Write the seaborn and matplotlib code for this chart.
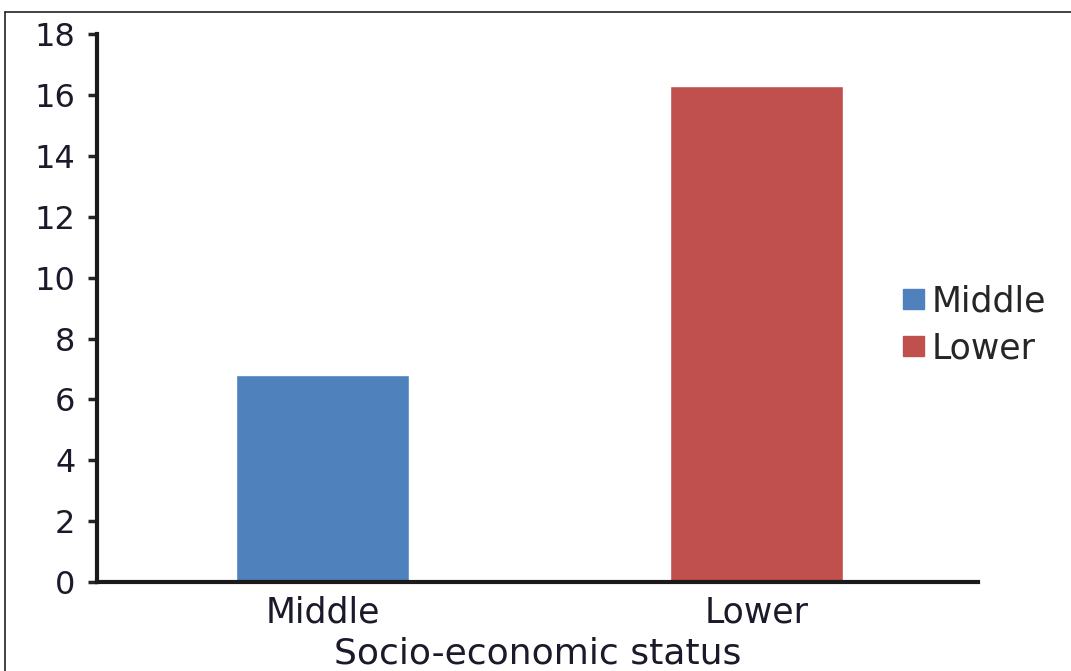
import matplotlib
matplotlib.use("Agg")
import matplotlib.pyplot as plt
import seaborn as sns
import pandas as pd
from matplotlib.lines import Line2D

categories = ["Middle", "Lower"]
values = [6.8, 16.3]
colors = ["#4F81BD", "#C0504D"]
yticks = [0, 2, 4, 6, 8, 10, 12, 14, 16, 18]

sns.set_theme(style="white")
plt.rcParams['font.family'] = ['DejaVu Sans']

df = pd.DataFrame({"status": categories, "value": values})

fig = plt.figure(figsize=(10.71, 6.71), dpi=100)
ax = fig.add_axes([0.0906, 0.1326, 0.8224, 0.8164])

sns.barplot(data=df, x="status", y="value", hue="status", palette=colors,
            width=0.4, ax=ax, legend=False, saturation=1)

txt = "#1a1a2a"
ax.set_ylim(0, 18)
ax.set_xlim(-0.52, 1.51)
ax.set_yticks(yticks)
ax.set_yticklabels([str(t) for t in yticks], fontsize=23, color=txt)
ax.tick_params(axis="x", labelsize=25, length=0, pad=10, colors=txt)
ax.tick_params(axis="y", length=6.5, width=2.5, pad=9, left=True, direction="out")
ax.set_xlabel("Socio-economic status", fontsize=26, color=txt, labelpad=5)
ax.set_ylabel("")
for s in ["top", "right"]:
    ax.spines[s].set_visible(False)
for s in ["left", "bottom"]:
    ax.spines[s].set_linewidth(3)
    ax.spines[s].set_color("#1a1a1a")

handles = [plt.Rectangle((0, 0), 1, 1, color=c) for c in colors]
fig.legend(handles, categories, loc="center left", bbox_to_anchor=(0.843, 0.516),
           frameon=False, fontsize=25, handlelength=0.62, handleheight=0.5,
           handletextpad=0.2, labelspacing=0.38, borderaxespad=0, borderpad=0)

# frame border (top and left edges visible)
fig.lines.append(Line2D([0.005, 0.005], [0.0, 0.982], transform=fig.transFigure,
                        color="#222222", linewidth=1.2))
fig.lines.append(Line2D([0.005, 1.0], [0.982, 0.982], transform=fig.transFigure,
                        color="#222222", linewidth=1.2))

fig.savefig("out.png", dpi=100)
